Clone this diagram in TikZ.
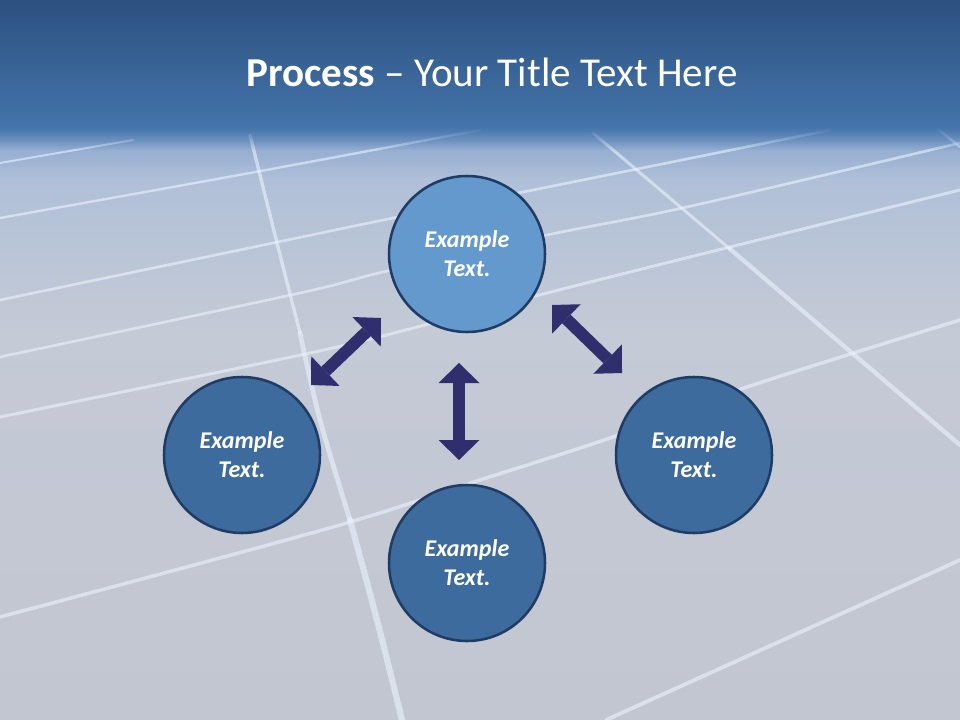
\documentclass[tikz,border=0pt]{standalone}
\usepackage{fontspec}
\setmainfont{Carlito}
\usetikzlibrary{arrows.meta,fadings}
\definecolor{bandtop}{RGB}{44,81,128}
\definecolor{bandbot}{RGB}{68,116,170}
\definecolor{horizon}{RGB}{128,160,204}
\definecolor{floorhi}{RGB}{176,192,216}
\definecolor{floormid}{RGB}{196,202,214}
\definecolor{floorlo}{RGB}{194,198,208}
\definecolor{lightfill}{RGB}{100,153,206}
\definecolor{darkfill}{RGB}{61,107,158}
\definecolor{ringcol}{RGB}{31,61,100}
\definecolor{arrowcol}{RGB}{47,47,109}
\definecolor{gridcol}{RGB}{236,243,253}
\begin{document}
\begin{tikzpicture}[x=0.75pt,y=-0.75pt,
  stage/.style={circle, minimum size=117pt, inner sep=0pt, draw=ringcol, line width=1.9pt,
    text=white, font=\fontsize{18}{21.6}\selectfont\bfseries\itshape, align=center},
  lightstage/.style={stage, fill=lightfill},
  darkstage/.style={stage, fill=darkfill},
  link/.style={draw=arrowcol, line width=9pt,
    {Triangle[length=15pt,width=30.75pt,line width=0pt]}-{Triangle[length=15pt,width=30.75pt,line width=0pt]}},
  gridline/.style={draw=gridcol, line cap=round, line join=round, opacity=0.6, line width=2.2pt},
]
\useasboundingbox (0,0) rectangle (960,720);
% floor
\shade[top color=horizon, bottom color=floorhi] (0,125) rectangle (960,180);
\shade[top color=floorhi, bottom color=floormid] (0,180) rectangle (960,330);
\shade[top color=floormid, bottom color=floorlo] (0,330) rectangle (960,720);
% grid lines on the floor
\draw[gridline, line width=2.5pt] plot[smooth] coordinates {(250,135) (277,243) (300,333)};
\draw[gridline, line width=3.6pt] plot[smooth] coordinates {(300,333) (320,420) (350,520)};
\draw[gridline, line width=4.6pt] plot[smooth] coordinates {(350,520) (377,620) (402,720)};
\draw[gridline, line width=2.2pt] (593,133) -- (730,249);
\draw[gridline, line width=3.2pt] (730,249) -- (960,445);
\draw[gridline, line width=1.8pt] (937,128) -- (960,147);
\draw[gridline, line width=1.5pt] (0,163) -- (133,140);
\draw[gridline, line width=1.8pt] plot[smooth] coordinates {(0,218) (250,173) (480,130)};
\draw[gridline, line width=2pt] plot[smooth] coordinates {(0,300) (273,243) (393,218) (523,192) (667,163) (830,130)};
\draw[gridline, line width=2pt] plot[smooth] coordinates {(0,357) (300,293) (383,272) (547,235) (687,207) (960,143)};
\draw[gridline, line width=2.2pt] plot[smooth] coordinates {(0,417) (310,353) (433,323) (547,293) (730,247) (960,190)};
\draw[gridline, line width=2.6pt] plot[smooth] coordinates {(0,617) (333,527) (480,480) (613,437) (747,387) (960,320)};
\draw[gridline, line width=2.8pt] (606,720) -- (960,560);
% title band
\shade[top color=bandtop, bottom color=bandbot] (0,0) rectangle (960,128);
\fill[bandbot, path fading=south] (0,127) rectangle (960,150);
\node[text=white, font=\fontsize{30.8}{37}\selectfont, anchor=base] (title) at (492,87)
  {\textbf{Process} – Your Title Text Here};
% arrows
\coordinate (l1) at (381,318);
\coordinate (l2) at (311,385);
\coordinate (v1) at (459,363);
\coordinate (v2) at (459,460);
\coordinate (r1) at (552,305);
\coordinate (r2) at (622,373);
\draw[link] (l1) -- (l2);
\draw[link] (v1) -- (v2);
\draw[link] (r1) -- (r2);
% stages
\node[lightstage] (top) at (467,254) {Example\\Text.};
\node[darkstage] (left) at (242,455) {Example\\Text.};
\node[darkstage] (bottom) at (467,563) {Example\\Text.};
\node[darkstage] (right) at (694,455) {Example\\Text.};
\end{tikzpicture}
\end{document}
